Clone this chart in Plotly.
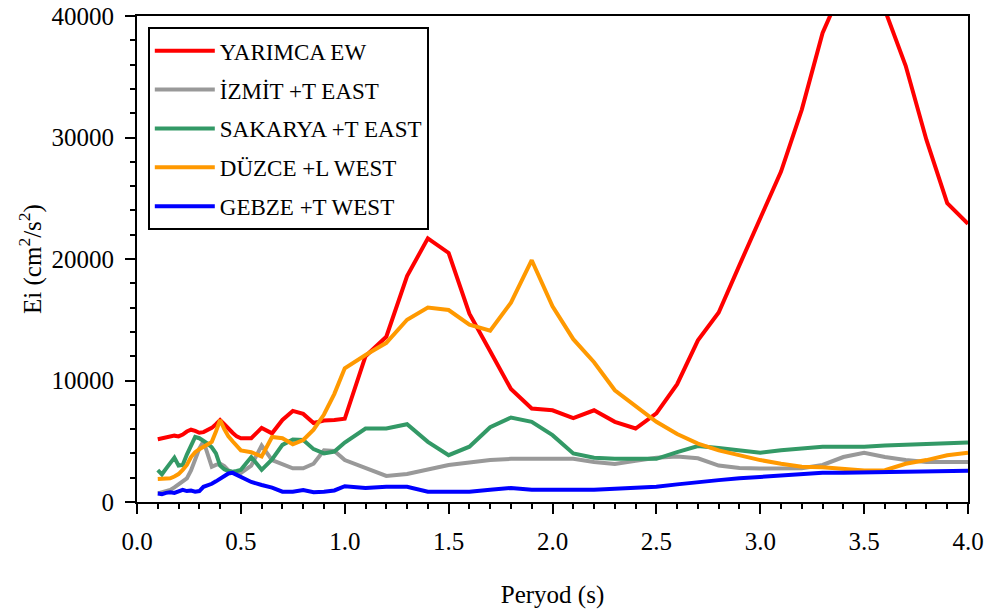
import plotly.graph_objects as go

# Period values (s)
period = [0.10, 0.12, 0.14, 0.16, 0.18, 0.20, 0.22, 0.24, 0.26, 0.28,
          0.30, 0.32, 0.34, 0.36, 0.38, 0.40, 0.42, 0.44, 0.46, 0.48,
          0.50, 0.55, 0.60, 0.65, 0.70, 0.75, 0.80, 0.85, 0.90, 0.95,
          1.00, 1.1, 1.2, 1.3, 1.4, 1.5, 1.6, 1.7, 1.8, 1.9,
          2.0, 2.1, 2.2, 2.3, 2.4, 2.5, 2.6, 2.7, 2.8, 2.9,
          3.0, 3.1, 3.2, 3.3, 3.4, 3.5, 3.6, 3.7, 3.8, 3.9, 4.0]

# Input energy Ei (cm^2/s^2) per record
yarimca_ew = [5160, 5240, 5320, 5380, 5460, 5400, 5550, 5800, 5950, 5850,
              5700, 5750, 5900, 6100, 6400, 6750, 6400, 6000, 5700, 5400,
              5250, 5250, 6100, 5650, 6750, 7500, 7250, 6500, 6700, 6750,
              6850, 12000, 13600, 18600, 21700, 20500, 15500, 12400, 9300, 7700,
              7550, 6900, 7550, 6600, 6050, 7300, 9700, 13300, 15600, 19500,
              23300, 27200, 32300, 38600, 42500, 43500, 40500, 35900, 29800, 24600, 22900]

izmit_t_east = [710, 780, 870, 990, 1200, 1450, 1700, 1950, 2600, 3500,
                4400, 5000, 3900, 2900, 3050, 3150, 2950, 2600, 2450, 2400,
                2400, 3000, 4650, 3450, 3100, 2770, 2770, 3150, 4250, 4200,
                3450, 2800, 2150, 2300, 2650, 3050, 3250, 3450, 3550, 3550,
                3550, 3550, 3300, 3120, 3400, 3650, 3750, 3600, 3000, 2800,
                2750, 2750, 2780, 3050, 3700, 4050, 3700, 3450, 3300, 3300, 3300]

sakarya_t_east = [2630, 2280, 2750, 3200, 3650, 3000, 3050, 3900, 4700, 5350,
                  5250, 5050, 4800, 4500, 4000, 3000, 2700, 2550, 2500, 2550,
                  2650, 3700, 2650, 3500, 4700, 5150, 5100, 4350, 4000, 4150,
                  4900, 6050, 6050, 6400, 4950, 3850, 4550, 6150, 6950, 6600,
                  5500, 4000, 3650, 3550, 3550, 3550, 4100, 4600, 4450, 4250,
                  4050, 4250, 4400, 4550, 4550, 4550, 4650, 4700, 4750, 4800, 4900]

duzce_l_west = [1890, 1890, 1900, 1950, 2100, 2300, 2650, 3050, 3700, 4100,
                4350, 4550, 4750, 4950, 5800, 6750, 6000, 5400, 5000, 4600,
                4250, 4100, 3750, 5350, 5250, 4750, 5100, 5950, 7200, 8900,
                11000, 12100, 13100, 15000, 16000, 15800, 14600, 14100, 16400, 19900,
                16100, 13400, 11500, 9200, 7900, 6600, 5600, 4800, 4250, 3850,
                3450, 3150, 2900, 2850, 2700, 2600, 2620, 3150, 3450, 3850, 4050]

gebze_t_west = [700, 650, 750, 800, 750, 900, 1000, 900, 950, 850,
                900, 1250, 1350, 1500, 1700, 1900, 2100, 2350, 2400, 2250,
                2050, 1650, 1400, 1180, 850, 850, 990, 800, 850, 950,
                1300, 1150, 1250, 1250, 850, 850, 850, 1000, 1150, 1000,
                1000, 1000, 1000, 1100, 1200, 1260, 1450, 1650, 1800, 1950,
                2080, 2200, 2350, 2400, 2400, 2420, 2430, 2450, 2500, 2530, 2580]

series = [
    ("YARIMCA EW", yarimca_ew, "#FF0000"),
    ("İZMİT +T EAST", izmit_t_east, "#999999"),
    ("SAKARYA +T EAST", sakarya_t_east, "#339966"),
    ("DÜZCE +L WEST", duzce_l_west, "#FF9900"),
    ("GEBZE +T WEST", gebze_t_west, "#0000FF"),
]

FONT = "Times New Roman, Liberation Serif, Tinos, DejaVu Serif, serif"

fig = go.Figure()
for i, (name, values, color) in enumerate(series):
    fig.add_trace(go.Scatter(
        x=period, y=values, name=name, mode="lines",
        line=dict(color=color, width=4),
        legendgroup=f"g{i}",
    ))

axis_common = dict(
    showline=True, linecolor="black", linewidth=2, mirror=True,
    ticks="outside", tickcolor="black", tickwidth=2, ticklen=10,
    showgrid=False, zeroline=False, automargin=False,
    tickfont=dict(family=FONT, size=25, color="black"),
)

fig.update_layout(
    width=987, height=614,
    margin=dict(l=137, r=19, t=16, b=112),
    paper_bgcolor="white", plot_bgcolor="white",
    font=dict(family=FONT, color="black"),
    showlegend=True,
    legend=dict(
        x=0.013, y=0.977, xanchor="left", yanchor="top",
        bgcolor="white", bordercolor="black", borderwidth=2,
        font=dict(family=FONT, size=23, color="black"),
        tracegroupgap=6, traceorder="grouped", itemwidth=60,
    ),
    xaxis=dict(
        range=[0, 4], dtick=0.5, tick0=0, tickformat=".1f",
        ticklabelstandoff=6,
        minor=dict(dtick=0.1, tick0=0, ticks="outside", ticklen=5,
                   tickwidth=2, tickcolor="black"),
        title=dict(text="Peryod (s)", standoff=31,
                   font=dict(family=FONT, size=25, color="black")),
        **axis_common,
    ),
    yaxis=dict(
        range=[0, 40000], dtick=10000, tick0=0, tickformat="d",
        ticklabelstandoff=6,
        minor=dict(dtick=2000, tick0=0, ticks="outside", ticklen=5,
                   tickwidth=2, tickcolor="black"),
        title=dict(text="Ei (cm<sup>2</sup>/s<sup>2</sup>)", standoff=3,
                   font=dict(family=FONT, size=25, color="black")),
        **axis_common,
    ),
)

fig.write_html("out.html")
